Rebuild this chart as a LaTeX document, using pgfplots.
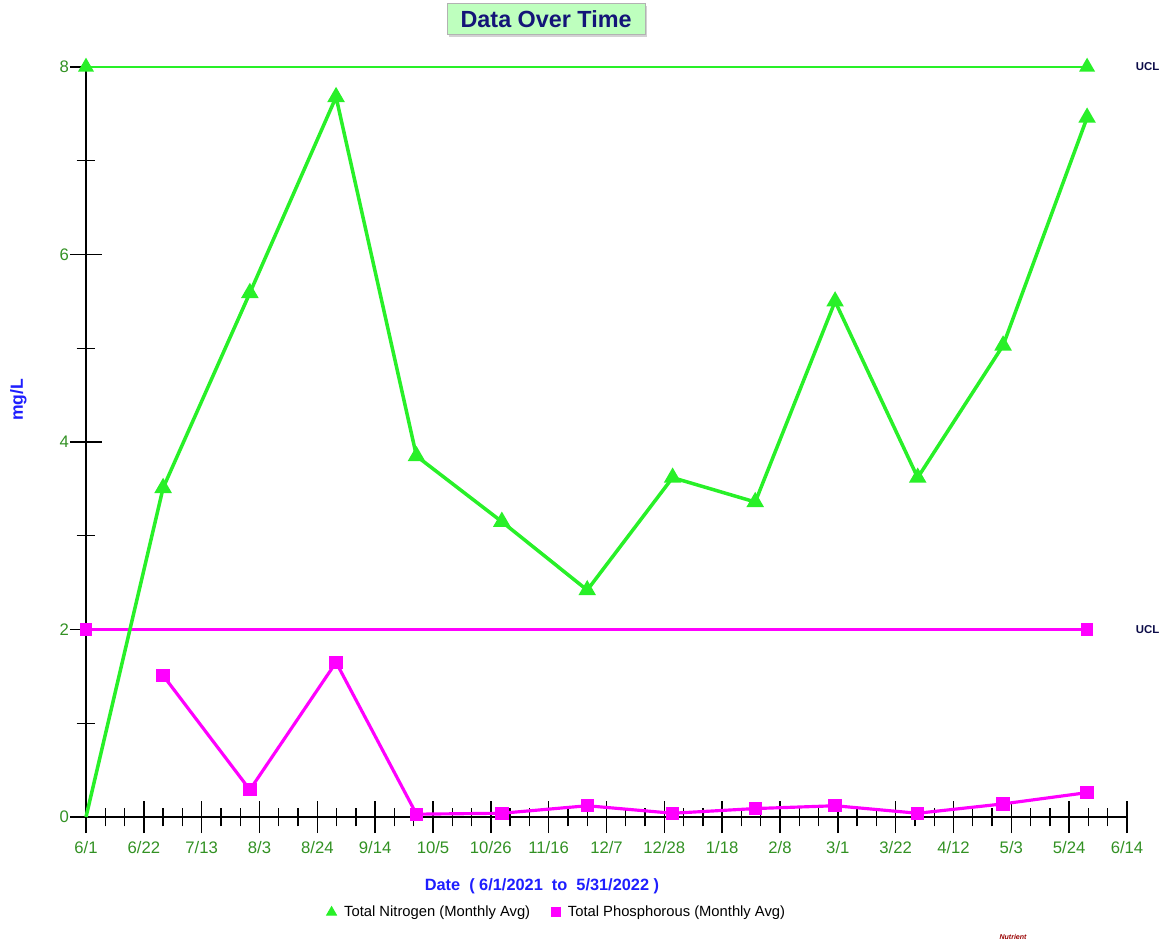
\documentclass[border=0pt]{standalone}
\usepackage{pgfplots}
\pgfplotsset{compat=1.18}
\usepackage{fontspec}
\setmainfont{Liberation Sans}
\usetikzlibrary{shadows}

\definecolor{ngreen}{RGB}{40,240,40}
\definecolor{pmag}{RGB}{255,0,255}
\definecolor{tickgreen}{RGB}{50,145,35}
\definecolor{lblue}{RGB}{30,30,255}
\definecolor{navy}{RGB}{20,20,120}
\definecolor{titlebg}{RGB}{190,255,190}

% days since 6/1/2021, monthly averages (mg/L)
\pgfplotstableread{
day  tn
0    0
28   3.51
59.5 5.59
90.8 7.68
120  3.85
151  3.15
182  2.42
213  3.62
243  3.36
272  5.50
302  3.62
333  5.03
363.5 7.46
}\nitrogen

\pgfplotstableread{
day  tp
28   1.51
59.5 0.29
90.8 1.65
120  0.03
151  0.04
182  0.12
213  0.04
243  0.09
272  0.12
302  0.04
333  0.14
363.5 0.26
}\phosphorus

\begin{document}
\begin{tikzpicture}
\useasboundingbox (0,0) rectangle (23.2cm,18.84cm);
\begin{axis}[
  at={(1.72cm,2.5cm)}, anchor=south west,
  scale only axis,
  width=20.82cm, height=15cm,
  xmin=0, xmax=378, ymin=0, ymax=8,
  axis x line=bottom, axis y line=left,
  axis line style={-, black, line width=1.2pt},
  clip=false,
  xtick={0,21,...,378},
  minor xtick={7,14,28,35,49,56,70,77,91,98,112,119,133,140,154,161,175,182,196,203,217,224,238,245,259,266,280,287,301,308,322,329,343,350,364,371},
  xticklabels={6/1,6/22,7/13,8/3,8/24,9/14,10/5,10/26,11/16,12/7,12/28,1/18,2/8,3/1,3/22,4/12,5/3,5/24,6/14},
  ytick={0,2,4,6,8},
  minor ytick={1,3,5,7},
  tick align=center,
  major tick length=0.64cm,
  minor tick length=0.37cm,
  tick style={black, line width=0.8pt},
  /pgf/number format/assume math mode=true,
  ticklabel style={font=\fontsize{9.5}{11}\selectfont, text=tickgreen},
  xticklabel style={yshift=-0.05cm},
  yticklabel style={xshift=0.1cm},
  xlabel={\textbf{Date\ \ ( 6/1/2021\ \ to\ \ 5/31/2022 )}},
  xlabel style={at={(axis description cs:0.438,-0.093)}, anchor=center, font=\fontsize{9.3}{11}\selectfont, text=lblue},
  ylabel={\textbf{mg/L}},
  ylabel style={at={(axis description cs:-0.065,0.556)}, anchor=center, rotate=0, font=\fontsize{10}{12}\selectfont, text=lblue},
  legend style={at={(axis description cs:0.453,-0.127)}, anchor=center, draw=none, fill=none,
    font=\fontsize{8.4}{10}\selectfont, legend columns=2,
    /tikz/every even column/.append style={column sep=0.35cm}},
  legend cell align=left,
]
% UCL lines
\addplot[ngreen, line width=1.5pt, mark=triangle*, mark size=3.8pt, mark options={fill=ngreen, draw=ngreen}, forget plot]
  coordinates {(0,8) (363.5,8)};
\addplot[color=pmag, line width=1.3pt, mark=square*, mark size=2.9pt, mark options={fill=pmag, draw=pmag}, forget plot]
  coordinates {(0,2) (363.5,2)};
% series
\addplot[ngreen, line width=2pt, mark=triangle*, mark size=3.8pt, mark indices={2,...,13}, mark options={fill=ngreen, draw=ngreen}, forget plot]
  table[x=day, y=tn] {\nitrogen};
\addplot[pmag, line width=1.8pt, mark=square*, mark size=2.9pt, mark options={fill=pmag, draw=pmag}, forget plot]
  table[x=day, y=tp] {\phosphorus};
\addlegendimage{only marks, mark=triangle*, mark size=3.3pt, ngreen}
\addlegendentry{\ Total Nitrogen (Monthly Avg)}
\addlegendimage{only marks, mark=square*, mark size=2.6pt, pmag}
\addlegendentry{\ Total Phosphorous (Monthly Avg)}
% UCL labels
\node[anchor=west, font=\fontsize{6.5}{7}\selectfont\bfseries, text=navy!60!black] at (axis cs:379,8) {UCL};
\node[anchor=west, font=\fontsize{6.5}{7}\selectfont\bfseries, text=navy!60!black] at (axis cs:379,2) {UCL};
% title
\node[draw=gray!60, fill=titlebg, minimum width=3.96cm, minimum height=0.62cm,
  drop shadow={shadow xshift=1.2pt, shadow yshift=-1.2pt, fill=gray!70},
  font=\fontsize{13.3}{14}\selectfont\bfseries, text=navy]
  at (axis description cs:0.442,1.064) {Data Over Time};
\node[font=\fontsize{4}{5}\selectfont\bfseries\itshape, text=red!60!black]
  at (axis description cs:0.8905,-0.16) {Nutrient};
\end{axis}
\end{tikzpicture}
\end{document}
